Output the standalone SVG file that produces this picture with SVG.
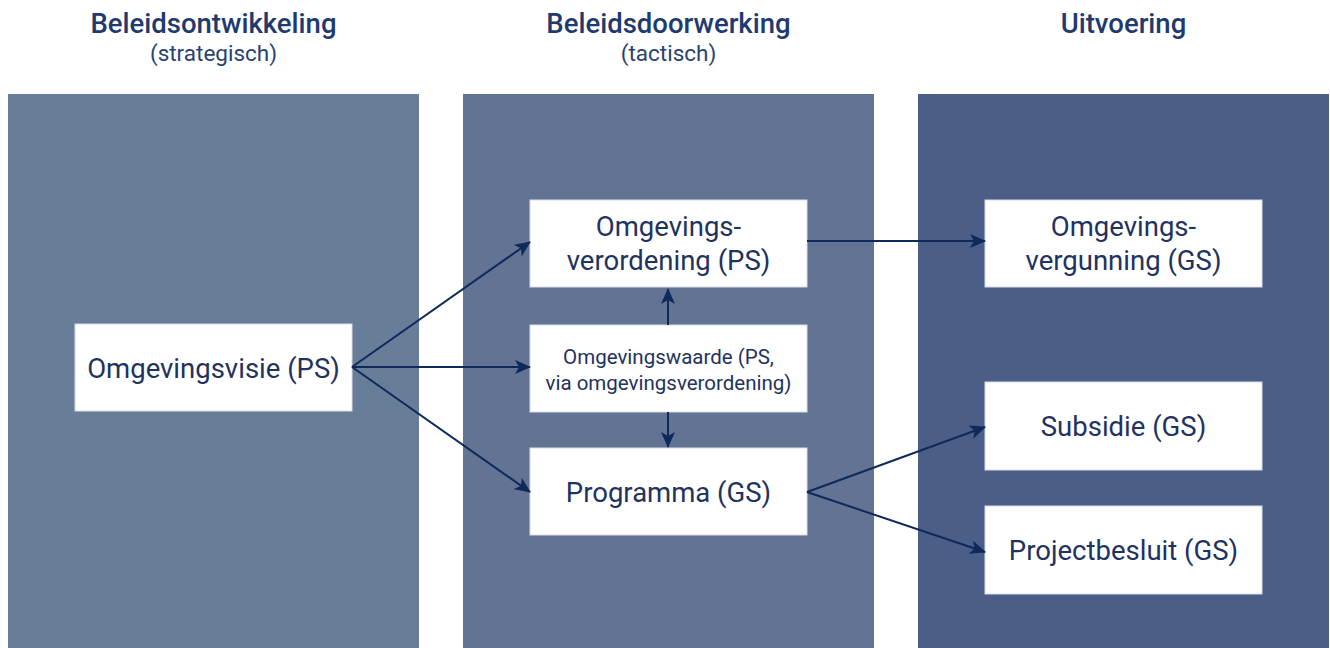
<svg xmlns="http://www.w3.org/2000/svg" width="1330" height="648" viewBox="0 0 1330 648">
<style>
.title{font-family:Roboto,"Liberation Sans",sans-serif;font-weight:500;font-size:27.5px;fill:#1f3a6e;text-anchor:middle}
.sub{font-family:Roboto,"Liberation Sans",sans-serif;font-size:22.5px;fill:#2a4270;text-anchor:middle}
.box{fill:#ffffff;stroke:#d8dce6;stroke-width:1}
.t{font-family:Roboto,"Liberation Sans",sans-serif;font-size:27.5px;fill:#1f3260;text-anchor:middle}
.ts{font-family:Roboto,"Liberation Sans",sans-serif;font-size:20.5px;fill:#1f3260;text-anchor:middle}
.c{stroke:#0e2a5a;stroke-width:2;fill:none;marker-end:url(#ah)}
</style>
<defs>
<marker id="ah" viewBox="0 0 16 14" refX="15" refY="7" markerWidth="16" markerHeight="14" markerUnits="userSpaceOnUse" orient="auto">
<path d="M0,0 L16,7 L0,14 L4,7 z" fill="#0e2a5a"/>
</marker>
</defs>
<rect width="1330" height="648" fill="#ffffff"/>
<g id="columns">
<rect x="8" y="94" width="411" height="554" fill="#687d97"/>
<rect x="463" y="94" width="411" height="554" fill="#627394"/>
<rect x="918" y="94" width="411" height="554" fill="#4b5e87"/>
</g>
<g id="headers">
<text class="title" x="213.5" y="33">Beleidsontwikkeling</text>
<text class="sub" x="213.5" y="61">(strategisch)</text>
<text class="title" x="668.5" y="33">Beleidsdoorwerking</text>
<text class="sub" x="668.5" y="61">(tactisch)</text>
<text class="title" x="1123.5" y="33">Uitvoering</text>
</g>
<g id="omgevingsvisie">
<rect class="box" x="75" y="324" width="277" height="87"/>
<text class="t" x="213.5" y="378">Omgevingsvisie (PS)</text>
</g>
<g id="omgevingsverordening">
<rect class="box" x="530" y="200" width="277" height="87"/>
<text class="t" x="668.5" y="236">Omgevings-</text>
<text class="t" x="668.5" y="270">verordening (PS)</text>
</g>
<g id="omgevingswaarde">
<rect class="box" x="530" y="325" width="277" height="87"/>
<text class="ts" x="668.5" y="364">Omgevingswaarde (PS,</text>
<text class="ts" x="668.5" y="390">via omgevingsverordening)</text>
</g>
<g id="programma">
<rect class="box" x="530" y="448" width="277" height="87"/>
<text class="t" x="668.5" y="502">Programma (GS)</text>
</g>
<g id="omgevingsvergunning">
<rect class="box" x="985" y="200" width="277" height="87"/>
<text class="t" x="1123.5" y="236">Omgevings-</text>
<text class="t" x="1123.5" y="270">vergunning (GS)</text>
</g>
<g id="subsidie">
<rect class="box" x="985" y="382" width="277" height="88"/>
<text class="t" x="1123.5" y="436">Subsidie (GS)</text>
</g>
<g id="projectbesluit">
<rect class="box" x="985" y="506" width="277" height="88"/>
<text class="t" x="1123.5" y="560">Projectbesluit (GS)</text>
</g>
<g id="connectors">
<path class="c" d="M352,367 L530,242"/>
<path class="c" d="M352,367 L530,367"/>
<path class="c" d="M352,367 L530,492"/>
<path class="c" d="M668,325 L668,289"/>
<path class="c" d="M668,412 L668,447"/>
<path class="c" d="M807,241 L985,241"/>
<path class="c" d="M807,492 L985,427"/>
<path class="c" d="M807,492 L985,552"/>
</g>
</svg>
